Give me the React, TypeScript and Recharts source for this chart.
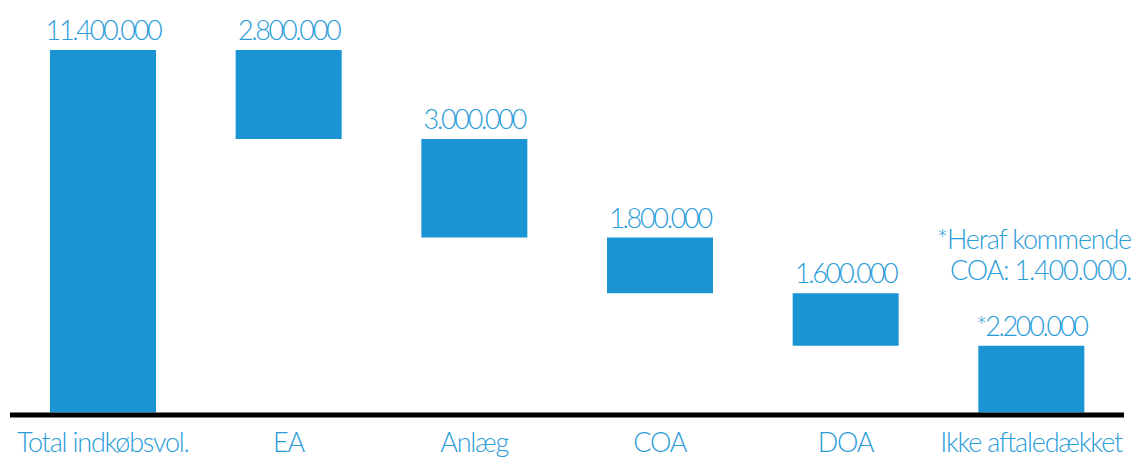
import { Bar, BarChart, XAxis, YAxis, LabelList } from "recharts"

const categories = ["Total indkøbsvol.", "EA", "Anlæg", "COA", "DOA", "Ikke aftaledækket"]
// step sizes in millions, as drawn
const steps = [11.4, 2.8, 3.1, 1.75, 1.65, 2.1]
const valueLabels = ["11.400.000", "2.800.000", "3.000.000", "1.800.000", "1.600.000", "*2.200.000"]
const noteLines = ["*Heraf kommende", "COA: 1.400.000."]

const blue = "#1a94d2"
const textBlue = "#2a9cd8"
const font = "Lato, sans-serif"

let level = 0
const data = categories.map((name, i) => {
  let range: [number, number]
  if (i === 0) {
    level = steps[0]
    range = [0, level]
  } else {
    const top = level
    level = Math.max(0, top - steps[i])
    range = [level, top]
  }
  return { name, range, label: valueLabels[i] }
})

const textStyle = {
  fill: textBlue,
  fontSize: 27,
  fontWeight: 300,
  fontFamily: font,
  letterSpacing: -1.2,
}

function ValueLabel(props: any) {
  const { x, y, width, value, index } = props
  const cx = x + width / 2
  return (
    <g>
      <text x={cx} y={y - 10} textAnchor="middle" {...textStyle} letterSpacing={-2.3}>
        {value}
      </text>
      {index === data.length - 1 &&
        noteLines.map((line, k) => (
          <text key={k} x={1131} y={y - 97 + k * 31.5} textAnchor="end" {...textStyle}>
            {line}
          </text>
        ))}
    </g>
  )
}

export default function App() {
  return (
    <div style={{ position: "absolute", left: 0, top: 0, fontFamily: font }}>
      <BarChart width={1133} height={457} data={data} margin={{ top: 50, right: 9, left: 10, bottom: 0 }}>
        <XAxis
          dataKey="name"
          interval={0}
          height={42}
          tickLine={false}
          tickSize={6}
          tickMargin={12}
          axisLine={{ stroke: "#000", strokeWidth: 5 }}
          tick={textStyle}
        />
        <YAxis hide type="number" domain={[-0.08, 11.4]} allowDataOverflow />
        <Bar dataKey="range" barSize={106} fill={blue} isAnimationActive={false}>
          <LabelList dataKey="label" content={ValueLabel} />
        </Bar>
      </BarChart>
    </div>
  )
}
